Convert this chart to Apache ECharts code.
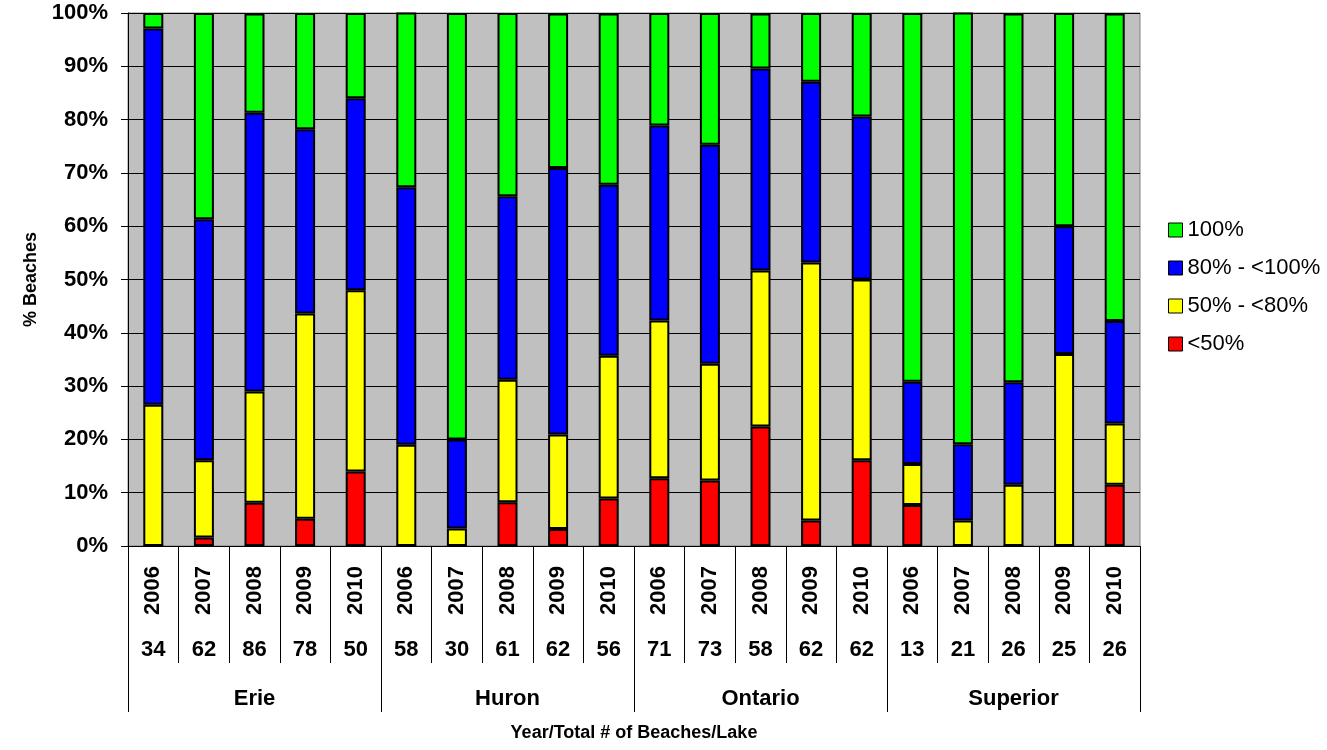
<!DOCTYPE html>
<html>
<head>
<meta charset="utf-8">
<title>Beaches by lake</title>
<script src="https://cdn.jsdelivr.net/npm/echarts@6/dist/echarts.min.js"></script>
<style>
  html, body { margin: 0; padding: 0; background: #fff; }
  #chart { width: 1327px; height: 750px; }
</style>
</head>
<body>
<div id="chart"></div>
<script>
const years = ["2006", "2007", "2008", "2009", "2010",
  "2006", "2007", "2008", "2009", "2010",
  "2006", "2007", "2008", "2009", "2010",
  "2006", "2007", "2008", "2009", "2010"];
const counts = ["34", "62", "86", "78", "50",
  "58", "30", "61", "62", "56",
  "71", "73", "58", "62", "62",
  "13", "21", "26", "25", "26"];
const lakes = ["Erie", "Huron", "Ontario", "Superior"];

// percent of beaches in each class
const under50 = [0, 1.6, 8.1, 5.1, 14, 0, 0, 8.2, 3.2, 8.9, 12.7, 12.3, 22.4, 4.8, 16.1, 7.7, 0, 0, 0, 11.5];
const from50 = [26.5, 14.5, 20.9, 38.5, 34, 19.0, 3.3, 23.0, 17.7, 26.8, 29.6, 21.9, 29.3, 48.4, 33.9, 7.7, 4.8, 11.5, 36, 11.5];
const from80 = [70.6, 45.2, 52.3, 34.6, 36, 48.3, 16.7, 34.4, 50.0, 32.1, 36.6, 41.1, 37.9, 33.9, 30.6, 15.4, 14.3, 19.2, 24, 19.2];
const full100 = [2.9, 38.7, 18.6, 21.8, 16, 32.8, 80.0, 34.4, 29.0, 32.1, 21.1, 24.7, 10.3, 12.9, 19.4, 69.2, 81.0, 69.2, 40, 57.7];

const yTicks = [0, 10, 20, 30, 40, 50, 60, 70, 80, 90, 100];

const font = "'Liberation Sans', Arial, sans-serif";

function barSeries(name, data, color) {
  return {
    name: name,
    type: "bar",
    stack: "total",
    data: data,
    barWidth: 20,
    itemStyle: { color: color, borderColor: "#000", borderWidth: 2 },
  };
}

const chart = echarts.init(document.getElementById("chart"));

chart.setOption({
  animation: false,
  textStyle: { fontFamily: font, color: "#000" },
  grid: {
    left: 128,
    right: 187,
    top: 13,
    bottom: 204,
    show: true,
    backgroundColor: "#C0C0C0",
    borderColor: "#808080",
    borderWidth: 1,
  },
  legend: {
    orient: "vertical",
    left: 1163,
    top: 214,
    itemWidth: 14,
    itemHeight: 14,
    itemGap: 16,
    icon: "rect",
    data: ["100%", "80% - <100%", "50% - <80%", "<50%"],
    itemStyle: { borderColor: "#000", borderWidth: 1 },
    textStyle: { fontFamily: font, fontSize: 22, color: "#000" },
  },
  xAxis: [
    {
      type: "category",
      position: "bottom",
      data: years,
      axisLine: { show: true, lineStyle: { color: "#000", width: 1 } },
      axisTick: { show: true, length: 117, interval: 0, lineStyle: { color: "#000", width: 1 } },
      axisLabel: {
        interval: 0,
        rotate: 90,
        margin: 20,
        fontSize: 22,
        fontWeight: "bold",
        color: "#000",
      },
    },
    {
      type: "category",
      position: "bottom",
      data: counts,
      axisLine: { show: false },
      axisTick: { show: false },
      axisLabel: {
        interval: 0,
        margin: 93,
        fontSize: 22,
        fontWeight: "bold",
        color: "#000",
      },
    },
    {
      type: "category",
      position: "bottom",
      data: lakes,
      axisLine: { show: false },
      axisTick: { show: true, length: 166, interval: 0, lineStyle: { color: "#000", width: 1 } },
      axisLabel: {
        interval: 0,
        margin: 142,
        fontSize: 22,
        fontWeight: "bold",
        color: "#000",
      },
      name: "Year/Total # of Beaches/Lake",
      nameLocation: "middle",
      nameGap: 178,
      nameTextStyle: { fontSize: 18, fontWeight: "bold", color: "#000" },
    },
  ],
  yAxis: {
    type: "value",
    min: yTicks[0],
    max: yTicks[yTicks.length - 1],
    interval: 10,
    name: "% Beaches",
    nameLocation: "middle",
    nameGap: 88,
    nameTextStyle: { fontSize: 18, fontWeight: "bold", color: "#000" },
    axisLine: { show: true, lineStyle: { color: "#000", width: 1 } },
    axisTick: { show: true, length: 7, lineStyle: { color: "#000" } },
    axisLabel: {
      margin: 20,
      fontSize: 22,
      fontWeight: "bold",
      color: "#000",
      formatter: "{value}%",
    },
    splitLine: { show: true, lineStyle: { color: "#000", width: 1 } },
  },
  series: [
    barSeries("<50%", under50, "#FF0000"),
    barSeries("50% - <80%", from50, "#FFFF00"),
    barSeries("80% - <100%", from80, "#0000FF"),
    barSeries("100%", full100, "#00FF00"),
  ],
});
</script>
</body>
</html>
